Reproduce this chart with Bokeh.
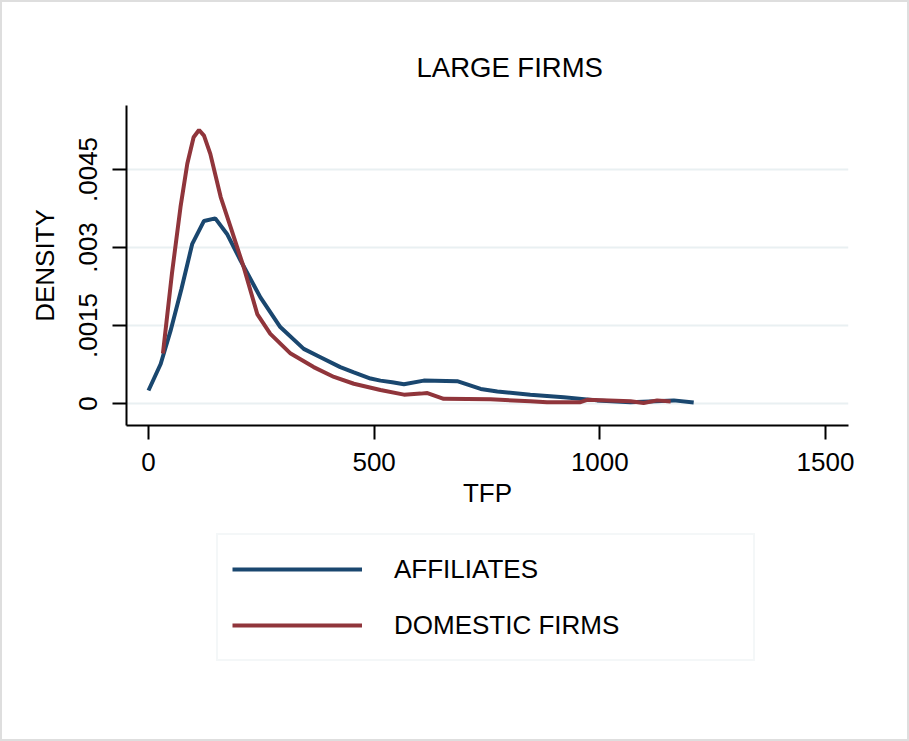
from bokeh.plotting import figure
from bokeh.models import FixedTicker, Range1d, Legend, LegendItem
from bokeh.layouts import column
from bokeh.embed import file_html
from bokeh.resources import INLINE

# ---- data ----
aff_tfp = [0, 27, 49, 73, 97, 123, 148, 174, 204, 248, 292, 344, 381, 425, 455,
           492, 514, 540, 566, 610, 684, 736, 773, 846, 920, 994, 1068, 1164, 1208]
aff_density = [0.00025, 0.00076, 0.0014, 0.0022, 0.00307, 0.00351, 0.00356, 0.00326,
               0.00275, 0.00204, 0.00147, 0.00105, 0.00089, 0.0007, 0.0006, 0.00048,
               0.00044, 0.00041, 0.00037, 0.00044, 0.00043, 0.00028, 0.00023, 0.00017,
               0.00012, 0.00006, 0.000025, 0.00006, 0.00002]

dom_tfp = [32, 52, 71, 86, 100, 112, 123, 137, 160, 182, 211, 241, 270, 315, 366, 411,
           455, 514, 566, 603, 618, 654, 758, 846, 883, 957, 972, 1068, 1097, 1127, 1157]
dom_density = [0.00096, 0.0025, 0.00378, 0.00461, 0.00512, 0.00526, 0.00515, 0.0048,
               0.00397, 0.00339, 0.00262, 0.00172, 0.00134, 0.00096, 0.0007, 0.00051,
               0.00038, 0.00026, 0.00017, 0.00019, 0.0002, 0.00009, 0.00008, 0.000045,
               0.000025, 0.000025, 0.00007, 0.000045, 0.00001, 0.00006, 0.00004]

x_ticks = [0, 500, 1000, 1500]
y_ticks = [0, 0.0015, 0.003, 0.0045]
y_tick_labels = ["0", ".0015", ".003", ".0045"]
series_names = ["AFFILIATES", "DOMESTIC FIRMS"]
title_text = "LARGE FIRMS"

FONT = "Liberation Sans"
BLUE = "#1a476f"
RED = "#90353b"
GRID = "#e9f0f2"

# ---- main chart ----
p = figure(width=905, height=515, output_backend="svg", toolbar_location=None,
           x_range=Range1d(-48.7, 1551), y_range=Range1d(-0.000423, 0.00573),
           min_border_left=124, min_border_right=59, min_border_top=103,
           min_border_bottom=92, background_fill_color="white",
           border_fill_color="white")
p.outline_line_color = None

p.title.text = title_text
p.title.align = "left"
p.title.offset = 290
p.title.standoff = 45
p.title.text_font = FONT
p.title.text_font_size = "27.5px"
p.title.text_font_style = "normal"
p.title.text_color = "black"

p.line(aff_tfp, aff_density, line_color=BLUE, line_width=4)
p.line(dom_tfp, dom_density, line_color=RED, line_width=4)

for ax in (p.xaxis[0], p.yaxis[0]):
    ax.axis_line_width = 2
    ax.axis_line_color = "black"
    ax.major_tick_line_width = 2
    ax.major_tick_line_color = "black"
    ax.major_tick_out = 14
    ax.major_tick_in = 0
    ax.minor_tick_line_color = None
    ax.major_label_text_font = FONT
    ax.major_label_text_font_size = "26px"
    ax.major_label_text_color = "black"
    ax.axis_label_text_font = FONT
    ax.axis_label_text_font_size = "26px"
    ax.axis_label_text_font_style = "normal"
    ax.axis_label_text_color = "black"

p.xaxis[0].ticker = FixedTicker(ticks=x_ticks)
p.xaxis[0].axis_label = "TFP"
p.xaxis[0].major_label_standoff = 13
p.xaxis[0].axis_label_standoff = 4

p.yaxis[0].ticker = FixedTicker(ticks=y_ticks)
p.yaxis[0].major_label_overrides = {t: l for t, l in zip(y_ticks, y_tick_labels)}
p.yaxis[0].major_label_orientation = "vertical"
p.yaxis[0].axis_label = "DENSITY"
p.yaxis[0].major_label_standoff = 15
p.yaxis[0].axis_label_standoff = 17

p.xgrid.grid_line_color = None
p.ygrid.grid_line_color = GRID
p.ygrid.grid_line_width = 2
p.ygrid.ticker = FixedTicker(ticks=y_ticks)

# ---- legend strip (same series, drawn outside its visible range) ----
q = figure(width=905, height=222, output_backend="svg", toolbar_location=None,
           x_range=Range1d(0, 1), y_range=Range1d(1, 2),
           min_border_left=0, min_border_right=0, min_border_top=0,
           min_border_bottom=0, background_fill_color="white",
           border_fill_color="white", x_axis_location=None, y_axis_location=None)
q.outline_line_color = None
q.grid.visible = False
k1 = q.line(aff_tfp, aff_density, line_color=BLUE, line_width=4)
k2 = q.line(dom_tfp, dom_density, line_color=RED, line_width=4)

legend = Legend(items=[LegendItem(label=series_names[0], renderers=[k1]),
                       LegendItem(label=series_names[1], renderers=[k2])],
                location=(90, 78), orientation="vertical",
                glyph_width=130, glyph_height=40, label_height=40, spacing=16,
                padding=14, label_standoff=32, label_width=345, margin=0,
                label_text_font=FONT, label_text_font_size="26px",
                label_text_color="black",
                border_line_color=GRID, border_line_width=2,
                background_fill_color="white")
q.add_layout(legend, "center")

layout = column(p, q, spacing=0)
layout.styles = {"border": "2px solid #dedede"}

open("out.html", "w").write(file_html(layout, INLINE))
